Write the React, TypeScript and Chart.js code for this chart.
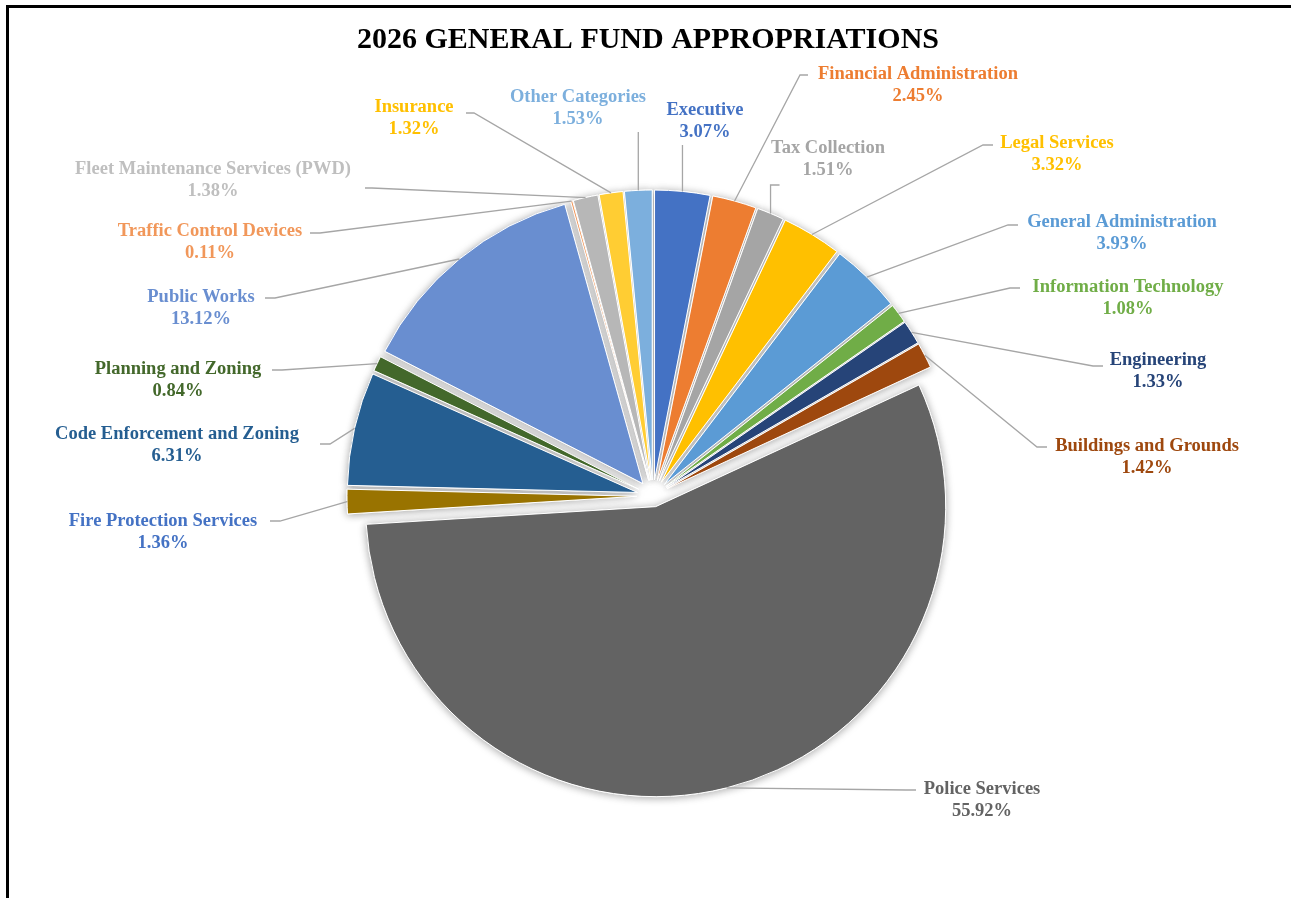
import { useEffect, useRef } from "react";
import { Chart, registerables } from "chart.js";

Chart.register(...registerables);

// ---------- data ----------
const chartTitle = "2026 GENERAL FUND APPROPRIATIONS";

const categories: string[] = [
  "Executive",
  "Financial Administration",
  "Tax Collection",
  "Legal Services",
  "General Administration",
  "Information Technology",
  "Engineering",
  "Buildings and Grounds",
  "Police Services",
  "Fire Protection Services",
  "Code Enforcement and Zoning",
  "Planning and Zoning",
  "Public Works",
  "Traffic Control Devices",
  "Fleet Maintenance Services (PWD)",
  "Insurance",
  "Other Categories",
];

const shares: number[] = [
  3.07, 2.45, 1.51, 3.32, 3.93, 1.08, 1.33, 1.42, 55.92, 1.36, 6.31, 0.84,
  13.12, 0.11, 1.38, 1.32, 1.53,
];

// ---------- styles ----------
const sliceColors: string[] = [
  "#4472C4",
  "#ED7D31",
  "#A5A5A5",
  "#FFC000",
  "#5B9BD5",
  "#70AD47",
  "#264478",
  "#9E480E",
  "#636363",
  "#997300",
  "#255E91",
  "#43682B",
  "#698ED0",
  "#F1975A",
  "#B7B7B7",
  "#FFCD33",
  "#7CAFDD",
];

const labelColors: string[] = [
  "#4472C4",
  "#ED7D31",
  "#A5A5A5",
  "#FFC000",
  "#5B9BD5",
  "#70AD47",
  "#264478",
  "#9E480E",
  "#636363",
  "#4472C4",
  "#255E91",
  "#43682B",
  "#698ED0",
  "#F1975A",
  "#BFBFBF",
  "#FFC000",
  "#7CAFDD",
];

// label placement (name-line centre) and leader line routing
type LabelLayout = {
  x: number;
  y: number;
  mode: "v" | "tax" | "side";
  ex?: number;
  ey?: number;
  bx?: number;
};

const labelLayout: LabelLayout[] = [
  { x: 705, y: 110, mode: "v" },
  { x: 918, y: 74, mode: "side", ex: 808, ey: 75, bx: 800 },
  { x: 828, y: 148, mode: "tax" },
  { x: 1057, y: 143, mode: "side", ex: 993, ey: 145, bx: 983 },
  { x: 1122, y: 222, mode: "side", ex: 1018, ey: 225, bx: 1008 },
  { x: 1128, y: 287, mode: "side", ex: 1020, ey: 288, bx: 1010 },
  { x: 1158, y: 360, mode: "side", ex: 1103, ey: 366, bx: 1093 },
  { x: 1147, y: 446, mode: "side", ex: 1047, ey: 447, bx: 1037 },
  { x: 982, y: 789, mode: "side", ex: 916, ey: 790, bx: 906 },
  { x: 163, y: 521, mode: "side", ex: 270, ey: 521, bx: 280 },
  { x: 177, y: 434, mode: "side", ex: 320, ey: 444, bx: 330 },
  { x: 178, y: 369, mode: "side", ex: 272, ey: 370, bx: 282 },
  { x: 201, y: 297, mode: "side", ex: 265, ey: 298, bx: 275 },
  { x: 210, y: 231, mode: "side", ex: 310, ey: 233, bx: 320 },
  { x: 213, y: 169, mode: "side", ex: 365, ey: 188, bx: 372 },
  { x: 414, y: 107, mode: "side", ex: 466, ey: 113, bx: 474 },
  { x: 578, y: 97, mode: "v" },
];

const LABEL_FONT = 'bold 18.5px "Liberation Serif", "Times New Roman", serif';
const TITLE_FONT = 'bold 30px "Liberation Serif", "Times New Roman", serif';

const explodeFor = (i: number) => (categories[i] === "Police Services" ? 11 : 16);

const piePlugin = {
  id: "pieDecor",
  beforeDatasetsDraw(chart: any) {
    const meta = chart.getDatasetMeta(0);
    const ca = chart.chartArea;
    const cx = (ca.left + ca.right) / 2;
    const cy = (ca.top + ca.bottom) / 2;
    meta.data.forEach((el: any, i: number) => {
      const mid = (el.startAngle + el.endAngle) / 2;
      const d = explodeFor(i);
      el.x = cx + Math.cos(mid) * d;
      el.y = cy + Math.sin(mid) * d;
    });
    const ctx = chart.ctx;
    ctx.save();
    ctx.shadowColor = "rgba(0,0,0,0.35)";
    ctx.shadowBlur = 9;
    ctx.shadowOffsetX = 0;
    ctx.shadowOffsetY = 1;
    meta.data.forEach((el: any) => el.draw(ctx));
    ctx.restore();
  },
  afterDatasetsDraw(chart: any) {
    const meta = chart.getDatasetMeta(0);
    const ctx = chart.ctx;
    const values = chart.data.datasets[0].data as number[];
    const total = values.reduce((a, b) => a + b, 0);
    ctx.save();
    meta.data.forEach((el: any, i: number) => {
      const L = labelLayout[i];
      const mid = (el.startAngle + el.endAngle) / 2;
      const R = el.outerRadius;
      const sx = el.x + Math.cos(mid) * R;
      const sy = el.y + Math.sin(mid) * R;
      ctx.beginPath();
      ctx.strokeStyle = "#A6A6A6";
      ctx.lineWidth = 1.3;
      ctx.moveTo(sx, sy);
      if (L.mode === "v") {
        ctx.lineTo(sx, L.y + 35);
      } else if (L.mode === "tax") {
        ctx.lineTo(sx, L.y + 37);
        ctx.lineTo(sx + 9, L.y + 37);
      } else {
        ctx.lineTo(L.bx!, L.ey!);
        ctx.lineTo(L.ex!, L.ey!);
      }
      ctx.stroke();

      ctx.fillStyle = labelColors[i];
      ctx.font = LABEL_FONT;
      ctx.textAlign = "center";
      ctx.textBaseline = "middle";
      ctx.fillText(categories[i], L.x, L.y);
      const pct = ((values[i] / total) * 100).toFixed(2) + "%";
      ctx.fillText(pct, L.x, L.y + 22);
    });
    ctx.restore();
  },
  afterDraw(chart: any) {
    const ctx = chart.ctx;
    ctx.save();
    ctx.fillStyle = "#000";
    ctx.font = TITLE_FONT;
    ctx.textAlign = "center";
    ctx.textBaseline = "middle";
    ctx.fillText(chartTitle, 648, 40);
    ctx.restore();
  },
};

export default function App() {
  const canvasRef = useRef<HTMLCanvasElement | null>(null);

  useEffect(() => {
    const prevMargin = document.body.style.margin;
    document.body.style.margin = "0";
    const canvas = canvasRef.current;
    if (!canvas) return;
    const chart = new Chart(canvas, {
      type: "pie",
      data: {
        labels: categories,
        datasets: [
          {
            data: shares,
            backgroundColor: sliceColors,
            borderColor: "#ffffff",
            borderWidth: 1,
            clip: false as any,
          },
        ],
      },
      options: {
        animation: false,
        responsive: true,
        maintainAspectRatio: false,
        radius: 290,
        layout: { padding: { left: 15, right: 0, top: 94, bottom: 0 } },
        events: [],
        plugins: {
          legend: { display: false },
          tooltip: { enabled: false },
          title: { display: false },
        },
      } as any,
      plugins: [piePlugin],
    });
    return () => {
      chart.destroy();
      document.body.style.margin = prevMargin;
    };
  }, []);

  return (
    <div
      style={{
        position: "fixed",
        left: 0,
        top: 0,
        width: 1291,
        height: 898,
        overflow: "hidden",
        background: "#ffffff",
      }}
    >
      <div
        style={{
          position: "absolute",
          left: 6,
          top: 5,
          width: 1400,
          height: 1000,
          borderLeft: "3px solid #000",
          borderTop: "3px solid #000",
        }}
      />
      <div style={{ position: "absolute", left: 0, top: 0, width: 1291, height: 898 }}>
        <canvas ref={canvasRef} />
      </div>
    </div>
  );
}
